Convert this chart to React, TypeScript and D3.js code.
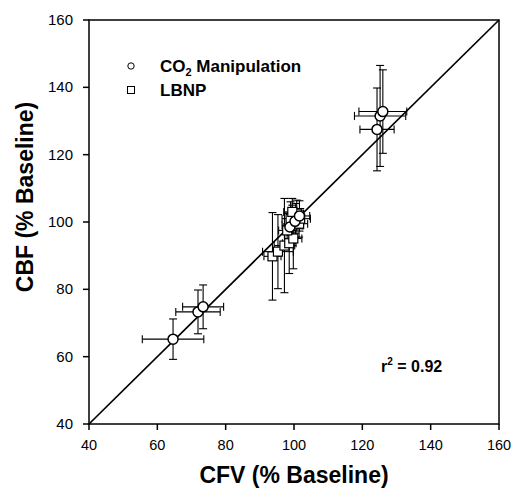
import React from "react";
import * as d3 from "d3";

// CO2 manipulation (circles)
const co2X = [64.6, 71.9, 73.4, 98.8, 100.3, 101.6, 124.3, 125.2, 126.0];
const co2Y = [65.2, 73.3, 74.8, 98.5, 100.2, 101.8, 127.5, 131.5, 132.8];
const co2Xerr = [9.0, 6.5, 6.0, 2.0, 2.5, 3.0, 5.0, 7.5, 7.0];
const co2Yerr = [6.0, 6.5, 6.5, 4.0, 3.5, 4.5, 12.3, 15.0, 12.4];

// LBNP (squares)
const lbnpX = [93.7, 95.3, 97.2, 98.6, 99.8, 98.0, 99.5, 100.5, 101.5, 99.0, 100.8, 101.8, 99.5];
const lbnpY = [89.8, 91.2, 93.0, 93.7, 95.1, 97.5, 99.0, 100.5, 99.5, 101.0, 102.5, 101.0, 103.0];
const lbnpXerr = [2.5, 4.5, 3.0, 2.0, 2.5, 2.5, 3.0, 2.0, 2.5, 2.5, 2.0, 3.0, 2.5];
const lbnpYerr = [13.0, 11.0, 14.0, 9.0, 9.0, 5.0, 6.0, 5.0, 4.0, 5.0, 4.0, 3.0, 4.0];

const xTicks = [40, 60, 80, 100, 120, 140, 160];
const yTicks = [40, 60, 80, 100, 120, 140, 160];
const identity = [40, 160];

const FONT = "'Liberation Sans', Arial, Helvetica, sans-serif";

export default function App() {
  const x = d3.scaleLinear().domain([40, 160]).range([89, 499]);
  const y = d3.scaleLinear().domain([40, 160]).range([424, 20]);
  const cap = 4;

  const errBars = (xs: number[], ys: number[], xe: number[], ye: number[], key: string) =>
    xs.map((xv, i) => {
      const cx = x(xv), cy = y(ys[i]);
      const x0 = x(xv - xe[i]), x1 = x(xv + xe[i]);
      const y0 = y(ys[i] - ye[i]), y1 = y(ys[i] + ye[i]);
      return (
        <g key={key + i} stroke="#000" strokeWidth={1.1}>
          <line x1={x0} x2={x1} y1={cy} y2={cy} />
          <line x1={x0} x2={x0} y1={cy - cap} y2={cy + cap} />
          <line x1={x1} x2={x1} y1={cy - cap} y2={cy + cap} />
          <line x1={cx} x2={cx} y1={y0} y2={y1} />
          <line x1={cx - cap} x2={cx + cap} y1={y0} y2={y0} />
          <line x1={cx - cap} x2={cx + cap} y1={y1} y2={y1} />
        </g>
      );
    });

  const line = d3.line<number>().x((d) => x(d)).y((d) => y(d));

  return (
    <svg width={512} height={488} style={{ position: "absolute", left: 0, top: 0, background: "#fff" }} fontFamily={FONT}>
      <rect x={0} y={0} width={512} height={488} fill="#fff" />
      {/* frame */}
      <rect x={x(40)} y={y(160)} width={x(160) - x(40)} height={y(40) - y(160)} fill="none" stroke="#000" strokeWidth={1.5} />
      {/* identity line */}
      <path d={line(identity) || ""} stroke="#000" strokeWidth={1.7} fill="none" />
      {/* x ticks */}
      {xTicks.map((t) => (
        <g key={"xt" + t}>
          <line x1={x(t)} x2={x(t)} y1={y(40)} y2={y(40) + 6} stroke="#000" strokeWidth={1.5} />
          <text x={x(t)} y={450} textAnchor="middle" fontSize={14.5}>{t}</text>
        </g>
      ))}
      {yTicks.map((t) => (
        <g key={"yt" + t}>
          <line x1={x(40) - 6} x2={x(40)} y1={y(t)} y2={y(t)} stroke="#000" strokeWidth={1.5} />
          <text x={73} y={y(t) + 5} textAnchor="end" fontSize={15}>{t}</text>
        </g>
      ))}
      {/* error bars */}
      {errBars(lbnpX, lbnpY, lbnpXerr, lbnpYerr, "le")}
      {errBars(co2X, co2Y, co2Xerr, co2Yerr, "ce")}
      {/* markers */}
      {lbnpX.map((xv, i) => (
        <rect key={"ls" + i} x={x(xv) - 4.5} y={y(lbnpY[i]) - 4.5} width={9} height={9} fill="#fff" stroke="#000" strokeWidth={1.2} />
      ))}
      {co2X.map((xv, i) => (
        <circle key={"cc" + i} cx={x(xv)} cy={y(co2Y[i])} r={5} fill="#fff" stroke="#000" strokeWidth={1.5} />
      ))}
      {/* legend */}
      <circle cx={131} cy={66} r={3.2} fill="#fff" stroke="#000" strokeWidth={1} />
      <text x={160} y={72} fontSize={17} fontWeight="bold">
        CO<tspan fontSize={11} dy={4}>2</tspan><tspan dy={-4}> Manipulation</tspan>
      </text>
      <rect x={127.5} y={86.5} width={7} height={7} fill="#fff" stroke="#000" strokeWidth={1} />
      <text x={160} y={96} fontSize={17} fontWeight="bold">LBNP</text>
      {/* r2 */}
      <text x={381} y={372} fontSize={16} fontWeight="bold">
        r<tspan fontSize={10} dy={-7}>2</tspan><tspan dy={7}> = 0.92</tspan>
      </text>
      {/* axis titles */}
      <text x={294} y={483} textAnchor="middle" fontSize={23} fontWeight="bold">CFV (% Baseline)</text>
      <text transform={`translate(33,${197}) rotate(-90)`} textAnchor="middle" fontSize={23} fontWeight="bold">CBF (% Baseline)</text>
    </svg>
  );
}
